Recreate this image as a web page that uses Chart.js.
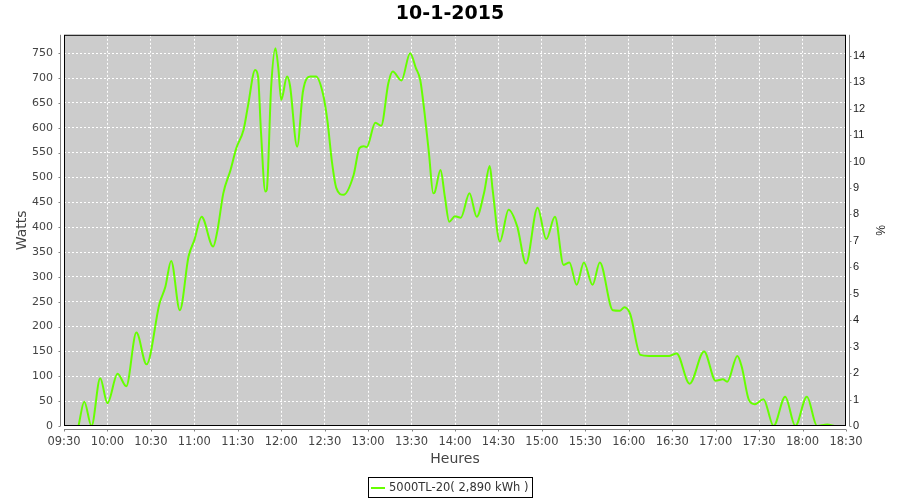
<!DOCTYPE html>
<html>
<head>
<meta charset="utf-8">
<script src="https://cdn.jsdelivr.net/npm/chart.js@4/dist/chart.umd.min.js"></script>
<style>
  html, body { margin: 0; padding: 0; background: #ffffff; }
  #wrap { width: 900px; height: 500px; }
</style>
</head>
<body>
<div id="wrap"><canvas id="c" width="900" height="500"></canvas></div>
<script>
// ---- data ----
const chartTitle = '10-1-2015';
const seriesLabel = '5000TL-20( 2,890 kWh )';
const times = ['09:40','09:44','09:49','09:55','10:00','10:07','10:13','10:20','10:27','10:36','10:40','10:44','10:50','10:56','11:00','11:05','11:13','11:16','11:20','11:25','11:29','11:34','11:37','11:42','11:44','11:46','11:49','11:50','11:53','11:56','11:58','12:00','12:04','12:06','12:11','12:15','12:20','12:24','12:29','12:32','12:35','12:38','12:43','12:50','12:54','12:57','12:59','13:05','13:09','13:14','13:17','13:23','13:29','13:33','13:36','13:39','13:42','13:45','13:46','13:50','13:53','13:56','14:00','14:04','14:10','14:15','14:20','14:24','14:26','14:31','14:37','14:43','14:49','14:57','15:03','15:09','15:15','15:19','15:24','15:29','15:35','15:40','15:49','15:54','15:57','16:01','16:08','16:14','16:28','16:33','16:42','16:52','17:00','17:05','17:08','17:15','17:18','17:23','17:27','17:33','17:40','17:48','17:55','18:03','18:10','18:17','18:22'];
const watts = [0,49,0,96,46,105,80,188,124,247,280,332,233,341,374,421,361,394,468,515,559,596,643,716,703,593,472,475,680,760,720,656,703,686,562,673,703,703,666,612,532,479,465,505,559,563,561,610,604,690,713,695,750,720,696,629,549,468,470,515,461,411,422,419,468,421,468,523,475,371,435,401,327,439,376,421,324,329,284,329,284,329,233,232,239,225,143,141,141,146,85,150,91,94,89,141,119,52,44,54,0,59,0,59,0,3,0];
const xTickStart = '09:30';
const xTickEnd = '18:30';
const xTickStepMin = 30;
const wattsMax = 787;
const wattsStep = 50;
const pctMax = 14.79;
const pctStep = 1;

function toMin(s) { const p = s.split(':').map(Number); return p[0] * 60 + p[1]; }
function fmtMin(v) {
  const h = Math.floor(v / 60), m = Math.round(v - h * 60);
  return String(h).padStart(2, '0') + ':' + String(m).padStart(2, '0');
}
const points = times.map((t, i) => ({ x: toMin(t), y: watts[i] }));

const GREEN = '#66ff00';
const AXIS = '#808080';

const plotBg = {
  id: 'plotBg',
  beforeDraw(chart) {
    const { ctx, chartArea: a } = chart;
    ctx.save();
    ctx.fillStyle = '#ffffff';
    ctx.fillRect(0, 0, chart.width, chart.height);
    ctx.fillStyle = '#cccccc';
    ctx.fillRect(a.left, a.top, a.right - a.left, a.bottom - a.top);
    ctx.restore();
  }
};

const frame = {
  id: 'frame',
  afterDraw(chart) {
    const { ctx, chartArea: a } = chart;
    ctx.save();
    ctx.lineWidth = 1;
    ctx.strokeStyle = '#000000';
    ctx.strokeRect(a.left + 0.5, a.top + 0.5, a.right - a.left - 1, a.bottom - a.top - 1);
    // offset axis lines with small tick marks
    ctx.strokeStyle = AXIS;
    ctx.beginPath();
    const lx = Math.round(a.left - 4) + 0.5;
    ctx.moveTo(lx, a.top); ctx.lineTo(lx, a.bottom);
    chart.scales.y.ticks.forEach(t => {
      const py = Math.round(chart.scales.y.getPixelForValue(t.value)) + 0.5;
      ctx.moveTo(lx - 2, py); ctx.lineTo(lx, py);
    });
    const rx = Math.round(a.right + 4) - 0.5;
    ctx.moveTo(rx, a.top); ctx.lineTo(rx, a.bottom);
    chart.scales.y2.ticks.forEach(t => {
      const py = Math.round(chart.scales.y2.getPixelForValue(t.value)) + 0.5;
      ctx.moveTo(rx, py); ctx.lineTo(rx + 2, py);
    });
    const by = Math.round(a.bottom + 4) - 0.5;
    ctx.moveTo(a.left, by); ctx.lineTo(a.right, by);
    chart.scales.x.ticks.forEach(t => {
      const px = Math.round(chart.scales.x.getPixelForValue(t.value)) + 0.5;
      ctx.moveTo(px, by); ctx.lineTo(px, by + 2);
    });
    ctx.stroke();

    // legend box
    const ds = chart.data.datasets[0];
    ctx.font = '11.5px "DejaVu Sans"';
    const tw = ctx.measureText(ds.label).width;
    const w = Math.round(3 + 14 + 4 + tw + 4);
    const x0 = Math.round(chart.width / 2 - w / 2);
    const y0 = 477, h = 20;
    ctx.strokeStyle = '#000000';
    ctx.strokeRect(x0 + 0.5, y0 + 0.5, w, h);
    ctx.strokeStyle = ds.borderColor;
    ctx.lineWidth = 2;
    ctx.beginPath();
    ctx.moveTo(x0 + 3, y0 + 11); ctx.lineTo(x0 + 17, y0 + 11);
    ctx.stroke();
    ctx.fillStyle = '#333333';
    ctx.textBaseline = 'middle';
    ctx.textAlign = 'left';
    ctx.fillText(ds.label, x0 + 21, y0 + 11);
    ctx.restore();
  }
};

const stepTicks = step => scale => {
  scale.ticks = scale.ticks.filter(t => Math.abs(t.value / step - Math.round(t.value / step)) < 1e-9);
};

new Chart(document.getElementById('c'), {
  type: 'line',
  data: {
    datasets: [{
      label: seriesLabel,
      data: points,
      borderColor: GREEN,
      backgroundColor: GREEN,
      borderWidth: 2,
      pointRadius: 0,
      cubicInterpolationMode: 'monotone',
      fill: false,
      yAxisID: 'y'
    }]
  },
  options: {
    responsive: false,
    animation: false,
    devicePixelRatio: 1,
    layout: { padding: { left: 0, right: 0, top: 0, bottom: 30 } },
    plugins: {
      legend: { display: false },
      tooltip: { enabled: false },
      title: {
        display: true,
        text: chartTitle,
        color: '#000000',
        font: { family: 'DejaVu Sans', size: 19, weight: 'bold' },
        padding: { top: 3, bottom: 9 }
      }
    },
    scales: {
      x: {
        type: 'linear',
        position: 'bottom',
        min: toMin(xTickStart),
        max: toMin(xTickEnd),
        afterFit: s => { s.height = 44; },
        border: { display: false, dash: [2, 2] },
        grid: { color: '#ffffff', lineWidth: 1, drawTicks: false },
        ticks: {
          stepSize: xTickStepMin,
          padding: 9,
          color: '#444444',
          font: { family: 'DejaVu Sans', size: 11.5 },
          maxRotation: 0,
          autoSkip: false,
          callback: v => fmtMin(v)
        },
        title: {
          display: true, text: 'Heures', color: '#444444',
          font: { family: 'DejaVu Sans', size: 14 },
          padding: { top: 0, bottom: 2 }
        }
      },
      y: {
        type: 'linear',
        position: 'left',
        min: 0,
        max: wattsMax,
        afterBuildTicks: stepTicks(wattsStep),
        afterFit: s => { s.width = 64; },
        border: { display: false, dash: [2, 2] },
        grid: { color: '#ffffff', lineWidth: 1, drawTicks: false },
        ticks: {
          stepSize: wattsStep,
          padding: 11,
          color: '#444444',
          font: { family: 'DejaVu Sans', size: 11 }
        },
        title: {
          display: true, text: 'Watts', color: '#444444',
          font: { family: 'DejaVu Sans', size: 14 },
          padding: { top: 14, bottom: 0 }
        }
      },
      y2: {
        type: 'linear',
        position: 'right',
        display: true,
        min: 0,
        max: pctMax,
        afterBuildTicks: stepTicks(pctStep),
        afterFit: s => { s.width = 54; },
        border: { display: false },
        grid: { display: false, drawTicks: false },
        ticks: {
          stepSize: pctStep,
          padding: 7,
          color: '#222222',
          font: { family: 'Liberation Sans', size: 11 }
        },
        title: {
          display: true, text: '%', color: '#222222',
          font: { family: 'Liberation Sans', size: 12 },
          padding: { top: 13, bottom: 0 }
        }
      }
    }
  },
  plugins: [plotBg, frame]
});
</script>
</body>
</html>
